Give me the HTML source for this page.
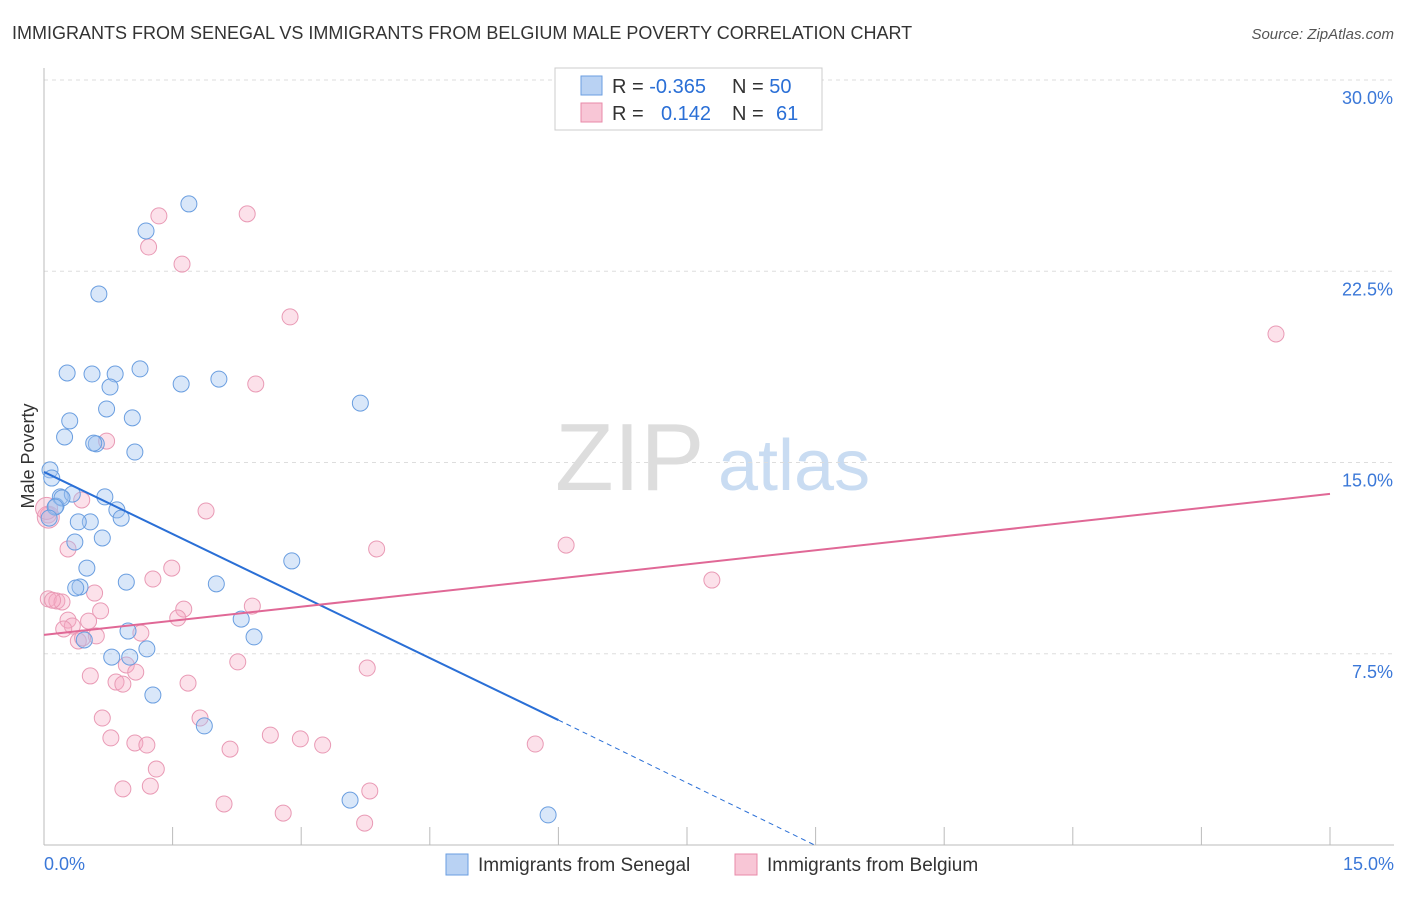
<!DOCTYPE html>
<html><head><meta charset="utf-8"><style>
body{margin:0;background:#fff;font-family:"Liberation Sans",sans-serif;}
svg text{font-family:"Liberation Sans",sans-serif;}
</style></head><body>
<svg id="chart" width="1406" height="892" viewBox="0 0 1406 892" xmlns="http://www.w3.org/2000/svg">
<text x="12" y="39" font-size="18" fill="#333">IMMIGRANTS FROM SENEGAL VS IMMIGRANTS FROM BELGIUM MALE POVERTY CORRELATION CHART</text>
<text x="1394" y="39" font-size="15" fill="#555" text-anchor="end" font-style="italic">Source: ZipAtlas.com</text>
<g>
<text x="555" y="490" font-size="96" fill="#ddd" font-family="Liberation Serif, serif">ZIP</text>
<text x="718" y="490" font-size="72" fill="#c9dcf2">atlas</text>
</g>
<g id="grid"></g>
<g id="axes"></g>
<g id="marks"></g>
<text transform="translate(34,456) rotate(-90)" font-size="18" fill="#333" text-anchor="middle">Male Poverty</text>
<g>
<rect x="555" y="68" width="267" height="62" fill="#fff" stroke="#ccc"/>
<rect x="581" y="76" width="21" height="19" fill="#b9d2f3" stroke="#6a9ee0"/>
<rect x="581" y="103" width="21" height="19" fill="#f8c6d6" stroke="#e88aa8"/>
<text x="612" y="93" font-size="20" fill="#333">R = <tspan fill="#2a6fd6">-0.365</tspan><tspan x="732">N = </tspan><tspan fill="#2a6fd6">50</tspan></text>
<text x="612" y="120" font-size="20" fill="#333">R = <tspan x="661" fill="#2a6fd6">0.142</tspan><tspan x="732">N = </tspan><tspan x="776" fill="#2a6fd6">61</tspan></text>
</g>
<g>
<rect x="446" y="854" width="22" height="21" fill="#b9d2f3" stroke="#6a9ee0"/>
<text x="478" y="871" font-size="19" fill="#333">Immigrants from Senegal</text>
<rect x="735" y="854" width="22" height="21" fill="#f8c6d6" stroke="#e88aa8"/>
<text x="767" y="871" font-size="19" fill="#333">Immigrants from Belgium</text>
</g>
</svg>
<script>
const yTicks=[7.5,15,22.5,30];
const yTickLabels=["7.5%","15.0%","22.5%","30.0%"];
const xAxisLabels=["0.0%","15.0%"];
const senegalX=[1.69,1.19,0.64,0.27,0.56,0.83,1.12,0.77,1.60,2.04,0.73,1.03,0.30,0.24,0.61,0.58,1.06,3.69,0.07,0.09,0.19,0.33,0.14,0.21,0.71,0.85,0.90,0.54,0.40,0.36,0.68,2.89,0.50,0.96,2.01,0.42,0.37,2.30,0.98,2.45,0.47,1.20,0.79,1.00,1.27,1.87,3.57,5.88,0.13,0.06];
const senegalY=[25.14,24.08,21.61,18.51,18.47,18.47,18.67,17.96,18.08,18.27,17.10,16.75,16.63,16.00,15.73,15.76,15.41,17.33,14.71,14.39,13.65,13.76,13.29,13.61,13.65,13.14,12.82,12.67,12.67,11.88,12.04,11.14,10.86,10.31,10.24,10.12,10.08,8.86,8.39,8.16,8.04,7.69,7.37,7.37,5.88,4.67,1.76,1.18,13.25,12.82];
const belgiumX=[1.34,2.37,1.22,1.61,2.87,14.37,2.47,0.73,1.89,0.44,0.05,3.88,6.09,0.28,1.49,1.27,7.79,0.05,0.15,0.21,0.59,0.66,2.43,1.63,1.56,0.28,0.52,0.33,0.23,1.13,0.61,0.40,0.45,2.26,0.96,1.07,3.77,0.54,0.84,0.92,1.68,0.68,1.82,0.78,1.06,1.20,2.17,2.64,2.99,3.25,5.73,1.31,0.92,1.24,3.80,2.10,2.79,3.74,0.05,0.10,0.03];
const belgiumY=[24.67,24.75,23.45,22.78,20.71,20.04,18.08,15.84,13.10,13.53,12.94,11.61,11.76,11.61,10.86,10.43,10.39,9.65,9.57,9.53,9.88,9.18,9.37,9.25,8.90,8.82,8.78,8.59,8.47,8.31,8.20,8.00,8.12,7.18,7.06,6.78,6.94,6.63,6.39,6.31,6.35,4.98,4.98,4.20,4.00,3.92,3.76,4.31,4.16,3.92,3.96,2.98,2.20,2.31,2.12,1.61,1.25,0.86,12.86,9.60,13.2];
const senegalTrend=[14.63,4.90,-0.02];
const senegalTrendX=[0,6,9.0];
const belgiumTrend=[8.24,13.77];
const belgiumTrendX=[0,15];

const NS="http://www.w3.org/2000/svg";
const L=44,R=1330,B=845,T=80;
const sx=v=>L+v/15*(R-L);
const sy=v=>B-v/30*(B-T);
function mk(tag,attrs,parent){const e=document.createElementNS(NS,tag);for(const k in attrs)e.setAttribute(k,attrs[k]);parent.appendChild(e);return e;}
const grid=document.getElementById('grid'),axes=document.getElementById('axes'),marks=document.getElementById('marks');
yTicks.forEach((t,i)=>{
 const g=mk('line',{x1:L,x2:1394,y1:sy(t),y2:sy(t),stroke:'#ddd','stroke-dasharray':'4,4'},grid);
 
 
 const tx=mk('text',{x:1393,y:sy(t)+24,'font-size':18,fill:'#3b78d8','text-anchor':'end'},axes);
 tx.textContent=yTickLabels[i];
 
 
});
const ax=mk('line',{x1:L,x2:1394,y1:B,y2:B,stroke:'#bbb'},axes);


const ay=mk('line',{x1:L,x2:L,y1:68,y2:B,stroke:'#bbb'},axes);


for(let i=0;i<=10;i++){
 const tk=mk('line',{x1:sx(i*1.5),x2:sx(i*1.5),y1:B,y2:B-18,stroke:'#bbb'},axes);
 
 
}
const xl0=mk('text',{x:44,y:870,'font-size':18,fill:'#3b78d8'},axes);xl0.textContent=xAxisLabels[0];


const xl1=mk('text',{x:1394,y:870,'font-size':18,fill:'#3b78d8','text-anchor':'end'},axes);xl1.textContent=xAxisLabels[1];



belgiumX.forEach((x,i)=>{
 const c=mk('circle',{cx:sx(x),cy:sy(belgiumY[i]),r:(i>=58&&i!==59)?11:8,fill:'rgba(245,170,195,0.35)',stroke:'#e99ab5','stroke-width':1},marks);
 
 
});
senegalX.forEach((x,i)=>{
 const c=mk('circle',{cx:sx(x),cy:sy(senegalY[i]),r:8,fill:'rgba(160,195,240,0.4)',stroke:'#6a9ee0','stroke-width':1},marks);
 
 
});
const bl=mk('line',{x1:sx(senegalTrendX[0]),y1:sy(senegalTrend[0]),x2:sx(senegalTrendX[1]),y2:sy(senegalTrend[1]),stroke:'#2a6fd6','stroke-width':2},marks);


const bd=mk('line',{x1:sx(senegalTrendX[1]),y1:sy(senegalTrend[1]),x2:sx(senegalTrendX[2]),y2:sy(senegalTrend[2]),stroke:'#2a6fd6','stroke-width':1,'stroke-dasharray':'5,4'},marks);


const pl=mk('line',{x1:sx(belgiumTrendX[0]),y1:sy(belgiumTrend[0]),x2:sx(belgiumTrendX[1]),y2:sy(belgiumTrend[1]),stroke:'#e06896','stroke-width':2},marks);


</script>
</body></html>
